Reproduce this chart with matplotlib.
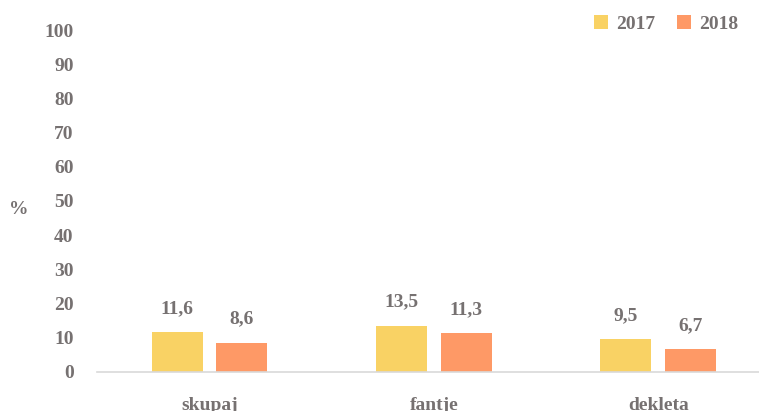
import numpy as np
import matplotlib.pyplot as plt

categories = ["skupaj", "fantje", "dekleta"]
years = ["2017", "2018"]
values_2017 = [11.6, 13.5, 9.5]
values_2018 = [8.6, 11.3, 6.7]
yticks = list(range(0, 101, 10))

text_color = "#767171"
colors = ["#F9D264", "#FE9966"]
plt.rcParams["font.family"] = ["Liberation Serif", "DejaVu Serif"]
plt.rcParams["font.weight"] = "bold"
fs = 14

fig = plt.figure(figsize=(7.59, 4.11), dpi=100)
ax = fig.add_axes([0.128, 0.095, 0.887, 0.832])

x = np.arange(len(categories))
width = 0.227
offset = 0.144
for vals, off, col, lab in zip([values_2017, values_2018], [-offset, offset], colors, years):
  bars = ax.bar(x + off, vals, width, color=col, label=lab)
  for b, v in zip(bars, vals):
    ax.annotate(f"{v:.1f}".replace(".", ","), (b.get_x() + b.get_width() / 2, v),
                xytext=(0, 11), textcoords="offset points", ha="center", va="bottom",
                fontsize=fs, fontweight="bold", color=text_color)

ax.set_xlim(-0.5, 2.5)
ax.set_ylim(0, 100)
ax.set_yticks(yticks)
ax.set_xticks(x)
ax.set_xticklabels(categories)
ax.tick_params(axis="both", length=0, labelsize=fs, labelcolor=text_color)
ax.tick_params(axis="y", pad=17)
ax.tick_params(axis="x", pad=18)
for s in ["top", "right", "left"]:
  ax.spines[s].set_visible(False)
ax.spines["bottom"].set_color("#D9D9D9")
ax.spines["bottom"].set_linewidth(1.2)

fig.text(0.025, 0.49, "%", fontsize=fs, fontweight="bold", color=text_color, ha="center", va="center")

ax.legend(loc="upper right", bbox_to_anchor=(0.978, 1.095), ncol=2, frameon=False,
          fontsize=fs, labelcolor=text_color, handlelength=0.75, handleheight=0.75,
          handletextpad=0.4, columnspacing=1.1)

fig.savefig("out.png", dpi=100)
